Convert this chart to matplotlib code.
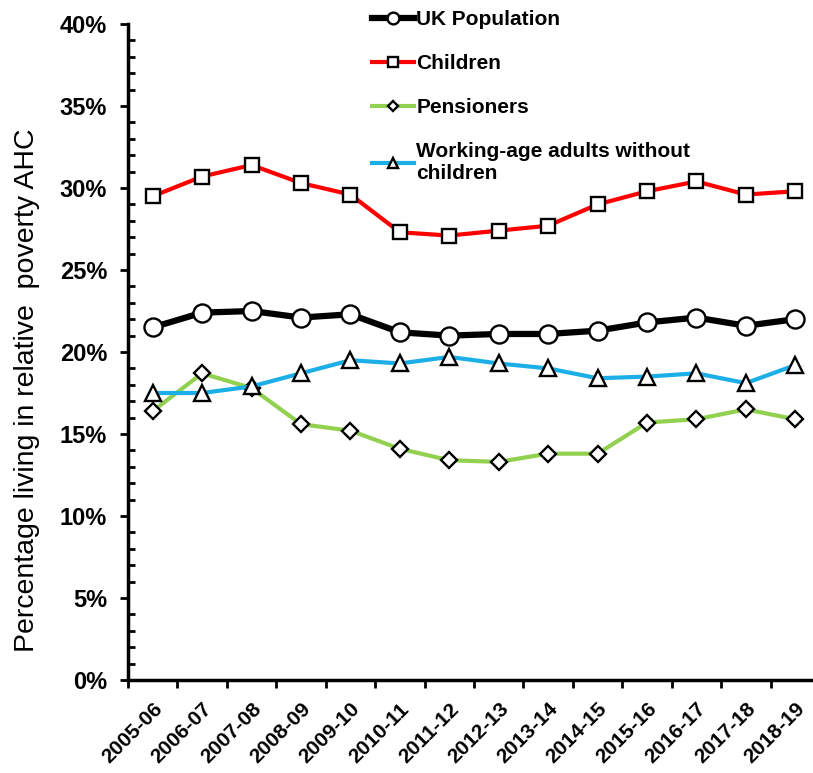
import matplotlib
matplotlib.use("Agg")
import matplotlib.pyplot as plt
from matplotlib.ticker import FuncFormatter, MultipleLocator, FixedLocator

years = ["2005-06", "2006-07", "2007-08", "2008-09", "2009-10", "2010-11", "2011-12",
         "2012-13", "2013-14", "2014-15", "2015-16", "2016-17", "2017-18", "2018-19"]
uk_population = [21.5, 22.4, 22.5, 22.1, 22.3, 21.2, 21.0, 21.1, 21.1, 21.3, 21.8, 22.1, 21.6, 22.0]
children = [29.5, 30.7, 31.4, 30.3, 29.6, 27.3, 27.1, 27.4, 27.7, 29.0, 29.8, 30.4, 29.6, 29.8]
pensioners = [16.4, 18.7, 17.8, 15.6, 15.2, 14.1, 13.4, 13.3, 13.8, 13.8, 15.7, 15.9, 16.5, 15.9]
working_age = [17.5, 17.5, 17.9, 18.7, 19.5, 19.3, 19.7, 19.3, 19.0, 18.4, 18.5, 18.7, 18.1, 19.2]

plt.rcParams['font.family'] = ['Liberation Sans', 'DejaVu Sans']

fig = plt.figure(figsize=(8.13, 7.73), dpi=100)
ax = fig.add_axes([128/813, 1-680/773, (820-128)/813, (680-24)/773])

x = list(range(len(years)))
mew = 1.7
ax.plot(x, uk_population, color='black', lw=4.5, marker='o', ms=13, mfc='white', mec='black', mew=mew,
        label='UK Population', zorder=5)
ax.plot(x, children, color='#FF0000', lw=3.0, marker='s', ms=10, mfc='white', mec='black', mew=mew,
        label='Children', zorder=4)
ax.plot(x, pensioners, color='#92D050', lw=3.0, marker='D', ms=8, mfc='white', mec='black', mew=mew,
        label='Pensioners', zorder=3)
ax.plot(x, working_age, color='#1CAEE6', lw=3.0, marker='^', ms=11, mfc='white', mec='black', mew=mew,
        label='Working-age adults without\nchildren', zorder=3)

ax.set_xlim(-0.5, 13.5)
ax.set_ylim(0, 40)
ax.yaxis.set_major_locator(MultipleLocator(5))
ax.yaxis.set_minor_locator(MultipleLocator(1))
ax.yaxis.set_major_formatter(FuncFormatter(lambda v, p: f"{int(v)}%"))

ax.set_xticks(x)
ax.set_xticklabels(years, rotation=45, ha='right', rotation_mode='anchor', fontweight='bold', fontsize=15)
ax.xaxis.set_minor_locator(FixedLocator([i - 0.5 for i in range(len(years) + 1)]))
ax.tick_params(axis='x', which='major', length=0, pad=14)
ax.tick_params(axis='x', which='minor', length=6, width=2, direction='out')
ax.tick_params(axis='y', which='major', length=6, width=2, direction='out', labelsize=17, pad=9)
ax.tick_params(axis='y', which='minor', length=5, width=2, direction='in')
for lbl in ax.get_yticklabels():
    lbl.set_fontweight('bold')

for s in ['top', 'right']:
    ax.spines[s].set_visible(False)
for s in ['left', 'bottom']:
    ax.spines[s].set_linewidth(2.5)

ax.set_ylabel("Percentage living in relative  poverty AHC", fontsize=20.5)
ax.yaxis.set_label_coords(-0.127, 0.442)

leg = ax.legend(loc='upper left', bbox_to_anchor=(362/813, 1.0), bbox_transform=fig.transFigure,
                frameon=False, prop={'weight': 'bold', 'size': 15}, handlelength=2.0, handletextpad=0.1,
                labelspacing=1.2, borderpad=0, markerscale=0.65)

fig.savefig("out.png", dpi=100)
